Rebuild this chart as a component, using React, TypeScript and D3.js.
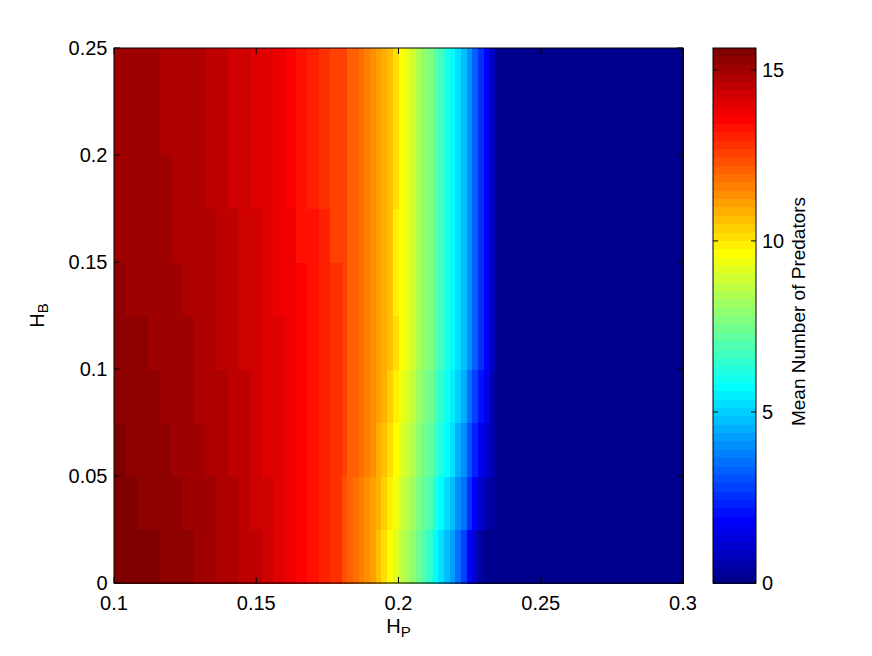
import React from 'react';
import * as d3 from 'd3';

// H_P grid cell edges (x) and H_B grid cell edges (y)
const hpEdges = [
  0.100, 0.104, 0.108, 0.112, 0.116, 0.120, 0.124, 0.128, 0.132, 0.136,
  0.140, 0.144, 0.148, 0.152, 0.156, 0.160, 0.164, 0.168, 0.172, 0.176,
  0.180, 0.182, 0.184, 0.186, 0.188, 0.190, 0.192, 0.194, 0.196, 0.198,
  0.200, 0.202, 0.204, 0.206, 0.208, 0.210, 0.212, 0.214, 0.216, 0.218,
  0.220, 0.222, 0.224, 0.226, 0.228, 0.230, 0.232, 0.234, 0.236, 0.300,
];
const hbEdges = [0, 0.025, 0.05, 0.075, 0.1, 0.125, 0.15, 0.175, 0.2, 0.225, 0.25];

// Mean number of predators; row 0 = lowest H_B band, columns follow hpEdges cells
const meanPredators: number[][] = [
  [15.64, 15.5, 15.5, 15.5, 15.3, 15.3, 15.3, 15.0, 15.0, 14.8, 14.8, 14.5, 14.5, 14.3, 14.1, 13.8, 13.6, 13.3, 13.1, 12.8,
   12.3, 12.1, 11.9, 11.6, 11.4, 11.1, 10.6, 10.1, 9.7, 9.2, 8.7, 8.4, 7.9, 7.5, 7.0, 6.5, 5.7, 5.3, 4.8, 4.3, 3.5, 2.8, 1.8, 1.1, 0.4, 0, 0, 0,
   0],
  [15.5, 15.5, 15.3, 15.3, 15.3, 15.3, 15.0, 15.0, 15.0, 14.8, 14.8, 14.5, 14.3, 14.3, 14.1, 13.8, 13.6, 13.3, 13.1, 12.8,
   12.3, 12.1, 11.9, 11.6, 11.4, 11.1, 10.9, 10.4, 9.9, 9.4, 8.9, 8.7, 8.2, 7.7, 7.2, 7.0, 6.2, 5.7, 5.3, 4.8, 4.0, 3.5, 2.6, 1.8, 1.1, 0.6, 0.4, 0,
   0],
  [15.5, 15.3, 15.3, 15.3, 15.3, 15.0, 15.0, 15.0, 14.8, 14.8, 14.5, 14.5, 14.3, 14.1, 14.1, 13.8, 13.6, 13.3, 13.1, 12.8,
   12.6, 12.1, 12.1, 11.9, 11.6, 11.4, 10.9, 10.6, 10.1, 9.7, 9.2, 8.9, 8.4, 7.9, 7.5, 7.2, 6.7, 6.2, 5.7, 5.3, 4.5, 4.0, 3.1, 2.3, 1.6, 1.1, 0.6, 0,
   0],
  [15.3, 15.3, 15.3, 15.3, 15.0, 15.0, 15.0, 14.8, 14.8, 14.8, 14.5, 14.5, 14.3, 14.1, 14.1, 13.8, 13.6, 13.3, 13.1, 12.8,
   12.6, 12.1, 12.1, 11.9, 11.6, 11.4, 11.1, 10.9, 10.4, 9.9, 9.4, 9.2, 8.7, 8.2, 7.7, 7.5, 7.0, 6.5, 6.0, 5.5, 5.0, 4.5, 3.5, 2.8, 2.1, 1.6, 0.6, 0,
   0],
  [15.3, 15.3, 15.3, 15.0, 15.0, 15.0, 15.0, 14.8, 14.8, 14.5, 14.5, 14.3, 14.3, 14.1, 14.1, 13.8, 13.6, 13.3, 13.1, 12.8,
   12.6, 12.1, 12.1, 11.9, 11.6, 11.4, 11.1, 10.9, 10.6, 10.1, 9.7, 9.4, 8.9, 8.4, 7.9, 7.7, 7.2, 6.7, 6.2, 5.7, 5.3, 4.8, 4.0, 3.3, 2.6, 1.8, 0.9, 0,
   0],
  [15.3, 15.0, 15.0, 15.0, 15.0, 15.0, 14.8, 14.8, 14.8, 14.5, 14.5, 14.3, 14.3, 14.1, 13.8, 13.8, 13.6, 13.3, 13.1, 12.8,
   12.6, 12.1, 12.1, 11.9, 11.6, 11.4, 11.1, 10.9, 10.6, 9.9, 9.7, 9.4, 8.9, 8.4, 7.9, 7.7, 7.2, 6.7, 6.2, 5.7, 5.3, 4.8, 4.0, 3.3, 2.6, 1.8, 0.9, 0,
   0],
  [15.0, 15.0, 15.0, 15.0, 15.0, 14.8, 14.8, 14.8, 14.8, 14.5, 14.5, 14.3, 14.3, 14.1, 13.8, 13.8, 13.3, 13.3, 13.1, 12.6,
   12.6, 12.1, 12.1, 11.9, 11.6, 11.4, 11.1, 10.9, 10.6, 9.9, 9.7, 9.4, 8.9, 8.4, 7.9, 7.7, 7.2, 6.7, 6.2, 5.7, 5.3, 4.8, 4.0, 3.3, 2.6, 1.8, 0.9, 0,
   0],
  [15.0, 15.0, 15.0, 15.0, 15.0, 14.8, 14.8, 14.8, 14.5, 14.5, 14.3, 14.3, 14.1, 14.1, 13.8, 13.6, 13.3, 13.1, 12.8, 12.6,
   12.6, 12.1, 12.1, 11.9, 11.6, 11.4, 11.1, 10.9, 10.6, 10.1, 9.7, 9.4, 8.9, 8.4, 7.9, 7.7, 7.2, 6.7, 6.2, 5.7, 5.3, 4.8, 4.0, 3.3, 2.6, 1.8, 0.9, 0,
   0],
  [15.0, 15.0, 15.0, 15.0, 14.8, 14.8, 14.8, 14.8, 14.5, 14.5, 14.3, 14.3, 14.1, 14.1, 13.8, 13.6, 13.3, 13.1, 12.8, 12.6,
   12.6, 12.1, 12.1, 11.9, 11.6, 11.4, 11.1, 10.9, 10.6, 10.1, 9.7, 9.4, 8.9, 8.4, 7.9, 7.7, 7.2, 6.7, 6.2, 5.7, 5.3, 4.8, 4.0, 3.3, 2.6, 1.8, 0.9, 0,
   0],
  [15.0, 15.0, 15.0, 15.0, 14.8, 14.8, 14.8, 14.8, 14.5, 14.5, 14.3, 14.3, 14.1, 14.1, 13.8, 13.6, 13.3, 13.1, 12.8, 12.6,
   12.6, 12.1, 12.1, 11.9, 11.6, 11.4, 11.1, 10.9, 10.6, 10.1, 9.7, 9.4, 8.9, 8.4, 7.9, 7.7, 7.2, 6.7, 6.2, 5.7, 5.3, 4.8, 4.0, 3.3, 2.6, 1.8, 0.9, 0,
   0],
];

const xTickValues = [0.1, 0.15, 0.2, 0.25, 0.3];
const yTickValues = [0, 0.05, 0.1, 0.15, 0.2, 0.25];
const colorTickValues = [0, 5, 10, 15];

// MATLAB-style jet colormap with m entries
function jet(m: number): string[] {
  const n = Math.ceil(m / 4);
  const u: number[] = [];
  for (let i = 1; i <= n; i++) u.push(i / n);
  for (let i = 1; i < n; i++) u.push(1);
  for (let i = n; i >= 1; i--) u.push(i / n);
  const off = Math.ceil(n / 2) - (m % 4 === 1 ? 1 : 0);
  const pick = (idx: number) => (idx >= 1 && idx <= u.length ? u[idx - 1] : 0);
  const out: string[] = [];
  for (let k = 1; k <= m; k++) {
    const r = pick(k - off - n);
    const g = pick(k - off);
    const b = pick(k - off + n);
    out.push(d3.rgb(Math.round(r * 255), Math.round(g * 255), Math.round(b * 255)).formatHex());
  }
  return out;
}

const FONT = "'Liberation Sans', Arial, Helvetica, sans-serif";

export default function App() {
  const W = 872;
  const H = 656;
  const left = 114, right = 683, top = 48, bottom = 583;
  const cbLeft = 713, cbRight = 756;
  const fs = 20;

  const x = d3.scaleLinear().domain([hpEdges[0], hpEdges[hpEdges.length - 1]]).range([left, right]);
  const y = d3.scaleLinear().domain([hbEdges[0], hbEdges[hbEdges.length - 1]]).range([bottom, top]);
  const [vmin, vmax] = d3.extent(meanPredators.flat()) as [number, number];
  const nColors = 64;
  const cmap = jet(nColors);
  const colorOf = (v: number) =>
    cmap[Math.max(0, Math.min(nColors - 1, Math.floor(((v - vmin) / (vmax - vmin)) * nColors)))];
  const cy = d3.scaleLinear().domain([vmin, vmax]).range([bottom, top]);

  const cells: React.ReactNode[] = [];
  meanPredators.forEach((row, i) => {
    row.forEach((v, j) => {
      const x0 = x(hpEdges[j]);
      const x1 = x(hpEdges[j + 1]);
      const y0 = y(hbEdges[i + 1]);
      const y1 = y(hbEdges[i]);
      cells.push(
        <rect key={`c${i}-${j}`} x={x0} y={y0} width={x1 - x0 + 0.6} height={y1 - y0 + 0.6}
          fill={colorOf(v)} shapeRendering="crispEdges" />
      );
    });
  });

  const bands = d3.range(nColors).map((i) => {
    const v0 = vmin + ((vmax - vmin) * i) / nColors;
    const v1 = vmin + ((vmax - vmin) * (i + 1)) / nColors;
    return (
      <rect key={`b${i}`} x={cbLeft} y={cy(v1)} width={cbRight - cbLeft} height={cy(v0) - cy(v1) + 0.6}
        fill={cmap[i]} shapeRendering="crispEdges" />
    );
  });

  const tl = 6;
  const fmt = (v: number) => String(+v.toFixed(3));

  return (
    <svg width={W} height={H} style={{ position: 'absolute', left: 0, top: 0, background: '#fff' }}
      fontFamily={FONT}>
      <rect x={0} y={0} width={W} height={H} fill="#fff" />
      <g>{cells}</g>
      <g stroke="#000" strokeWidth={1}>
        {xTickValues.map((t) => (
          <g key={`xt${t}`}>
            <line x1={x(t)} x2={x(t)} y1={bottom} y2={bottom - tl} />
            <line x1={x(t)} x2={x(t)} y1={top} y2={top + tl} />
          </g>
        ))}
        {yTickValues.map((t) => (
          <g key={`yt${t}`}>
            <line x1={left} x2={left + tl} y1={y(t)} y2={y(t)} />
            <line x1={right} x2={right - tl} y1={y(t)} y2={y(t)} />
          </g>
        ))}
      </g>
      <rect x={left} y={top} width={right - left} height={bottom - top} fill="none" stroke="#000" strokeWidth={1} />
      <g fontSize={fs} fill="#000">
        {xTickValues.map((t) => (
          <text key={`xl${t}`} x={x(t)} y={bottom + 26.5} textAnchor="middle">{fmt(t)}</text>
        ))}
        {yTickValues.map((t) => (
          <text key={`yl${t}`} x={left - 6.5} y={y(t) + 0.358 * fs} textAnchor="end">{fmt(t)}</text>
        ))}
        <text x={(left + right) / 2} y={633} textAnchor="middle">
          H<tspan fontSize={15} dy={4}>P</tspan>
        </text>
        <text transform={`translate(44,${(top + bottom) / 2}) rotate(-90)`} textAnchor="middle">
          H<tspan fontSize={15} dy={4}>B</tspan>
        </text>
      </g>
      <g>{bands}</g>
      <g stroke="#000" strokeWidth={1}>
        {colorTickValues.map((t) => (
          <g key={`ct${t}`}>
            <line x1={cbLeft} x2={cbLeft + 5} y1={cy(t)} y2={cy(t)} />
            <line x1={cbRight} x2={cbRight - 5} y1={cy(t)} y2={cy(t)} />
          </g>
        ))}
      </g>
      <rect x={cbLeft} y={top} width={cbRight - cbLeft} height={bottom - top} fill="none" stroke="#000" strokeWidth={1} />
      <g fontSize={fs} fill="#000">
        {colorTickValues.map((t) => (
          <text key={`cl${t}`} x={cbRight + 6} y={cy(t) + 0.358 * fs} textAnchor="start">{t}</text>
        ))}
        <text fontSize={19} transform={`translate(805,${(top + bottom) / 2 - 4}) rotate(-90)`} textAnchor="middle">
          Mean Number of Predators
        </text>
      </g>
    </svg>
  );
}
